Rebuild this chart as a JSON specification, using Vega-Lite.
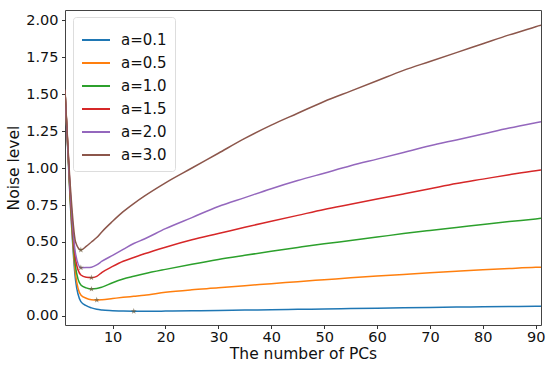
{
  "$schema": "https://vega.github.io/schema/vega-lite/v6.json",
  "width": 476,
  "height": 315,
  "autosize": {"type": "none"},
  "padding": {"left": 65, "top": 10, "right": 9, "bottom": 42},
  "background": "white",
  "config": {
    "font": "DejaVu Sans",
    "view": {"stroke": "#444", "strokeWidth": 1},
    "axis": {"grid": false, "domain": false, "tickColor": "#333", "tickSize": 3.5, "labelColor": "#111", "titleColor": "#111", "labelFontSize": 14.5, "titleFontSize": 15.5, "titleFontWeight": "normal", "labelPadding": 3.5, "labelOverlap": false},
    "axisY": {"labelOverlap": false}
  },
  "datasets": {
    "lines": [
      {"a":"a=0.1","x":1,"y":1.52},{"a":"a=0.1","x":2,"y":0.76},{"a":"a=0.1","x":3,"y":0.24},{"a":"a=0.1","x":4,"y":0.097},{"a":"a=0.1","x":5,"y":0.07},{"a":"a=0.1","x":6,"y":0.055},{"a":"a=0.1","x":7,"y":0.045},{"a":"a=0.1","x":8,"y":0.04},{"a":"a=0.1","x":10,"y":0.036},{"a":"a=0.1","x":12,"y":0.033},{"a":"a=0.1","x":14,"y":0.032},{"a":"a=0.1","x":16,"y":0.032},{"a":"a=0.1","x":20,"y":0.033},{"a":"a=0.1","x":25,"y":0.035},{"a":"a=0.1","x":30,"y":0.037},{"a":"a=0.1","x":35,"y":0.04},{"a":"a=0.1","x":40,"y":0.042},{"a":"a=0.1","x":45,"y":0.045},{"a":"a=0.1","x":50,"y":0.047},{"a":"a=0.1","x":55,"y":0.05},{"a":"a=0.1","x":60,"y":0.052},{"a":"a=0.1","x":65,"y":0.055},{"a":"a=0.1","x":70,"y":0.057},{"a":"a=0.1","x":75,"y":0.06},{"a":"a=0.1","x":80,"y":0.062},{"a":"a=0.1","x":85,"y":0.064},{"a":"a=0.1","x":90,"y":0.066},{"a":"a=0.1","x":91,"y":0.066},
      {"a":"a=0.5","x":1,"y":1.52},{"a":"a=0.5","x":2,"y":0.78},{"a":"a=0.5","x":3,"y":0.28},{"a":"a=0.5","x":4,"y":0.142},{"a":"a=0.5","x":5,"y":0.12},{"a":"a=0.5","x":6,"y":0.11},{"a":"a=0.5","x":7,"y":0.108},{"a":"a=0.5","x":8,"y":0.11},{"a":"a=0.5","x":10,"y":0.118},{"a":"a=0.5","x":12,"y":0.126},{"a":"a=0.5","x":14,"y":0.133},{"a":"a=0.5","x":16,"y":0.14},{"a":"a=0.5","x":20,"y":0.16},{"a":"a=0.5","x":25,"y":0.177},{"a":"a=0.5","x":30,"y":0.19},{"a":"a=0.5","x":35,"y":0.205},{"a":"a=0.5","x":40,"y":0.218},{"a":"a=0.5","x":45,"y":0.232},{"a":"a=0.5","x":50,"y":0.245},{"a":"a=0.5","x":55,"y":0.258},{"a":"a=0.5","x":60,"y":0.27},{"a":"a=0.5","x":65,"y":0.281},{"a":"a=0.5","x":70,"y":0.292},{"a":"a=0.5","x":75,"y":0.302},{"a":"a=0.5","x":80,"y":0.312},{"a":"a=0.5","x":85,"y":0.321},{"a":"a=0.5","x":90,"y":0.329},{"a":"a=0.5","x":91,"y":0.33},
      {"a":"a=1.0","x":1,"y":1.52},{"a":"a=1.0","x":2,"y":0.8},{"a":"a=1.0","x":3,"y":0.33},{"a":"a=1.0","x":4,"y":0.209},{"a":"a=1.0","x":5,"y":0.19},{"a":"a=1.0","x":6,"y":0.182},{"a":"a=1.0","x":7,"y":0.185},{"a":"a=1.0","x":8,"y":0.195},{"a":"a=1.0","x":10,"y":0.225},{"a":"a=1.0","x":12,"y":0.25},{"a":"a=1.0","x":14,"y":0.268},{"a":"a=1.0","x":16,"y":0.285},{"a":"a=1.0","x":20,"y":0.315},{"a":"a=1.0","x":25,"y":0.35},{"a":"a=1.0","x":30,"y":0.382},{"a":"a=1.0","x":35,"y":0.41},{"a":"a=1.0","x":40,"y":0.437},{"a":"a=1.0","x":45,"y":0.463},{"a":"a=1.0","x":50,"y":0.488},{"a":"a=1.0","x":55,"y":0.51},{"a":"a=1.0","x":60,"y":0.533},{"a":"a=1.0","x":65,"y":0.557},{"a":"a=1.0","x":70,"y":0.578},{"a":"a=1.0","x":75,"y":0.598},{"a":"a=1.0","x":80,"y":0.618},{"a":"a=1.0","x":85,"y":0.638},{"a":"a=1.0","x":90,"y":0.656},{"a":"a=1.0","x":91,"y":0.66},
      {"a":"a=1.5","x":1,"y":1.52},{"a":"a=1.5","x":2,"y":0.82},{"a":"a=1.5","x":3,"y":0.38},{"a":"a=1.5","x":4,"y":0.277},{"a":"a=1.5","x":5,"y":0.262},{"a":"a=1.5","x":6,"y":0.259},{"a":"a=1.5","x":7,"y":0.268},{"a":"a=1.5","x":8,"y":0.295},{"a":"a=1.5","x":10,"y":0.335},{"a":"a=1.5","x":12,"y":0.37},{"a":"a=1.5","x":14,"y":0.395},{"a":"a=1.5","x":16,"y":0.42},{"a":"a=1.5","x":20,"y":0.465},{"a":"a=1.5","x":25,"y":0.515},{"a":"a=1.5","x":30,"y":0.557},{"a":"a=1.5","x":35,"y":0.6},{"a":"a=1.5","x":40,"y":0.64},{"a":"a=1.5","x":45,"y":0.68},{"a":"a=1.5","x":50,"y":0.72},{"a":"a=1.5","x":55,"y":0.755},{"a":"a=1.5","x":60,"y":0.79},{"a":"a=1.5","x":65,"y":0.825},{"a":"a=1.5","x":70,"y":0.86},{"a":"a=1.5","x":75,"y":0.895},{"a":"a=1.5","x":80,"y":0.925},{"a":"a=1.5","x":85,"y":0.955},{"a":"a=1.5","x":90,"y":0.982},{"a":"a=1.5","x":91,"y":0.986},
      {"a":"a=2.0","x":1,"y":1.52},{"a":"a=2.0","x":2,"y":0.84},{"a":"a=2.0","x":3,"y":0.42},{"a":"a=2.0","x":4,"y":0.326},{"a":"a=2.0","x":5,"y":0.327},{"a":"a=2.0","x":6,"y":0.33},{"a":"a=2.0","x":7,"y":0.345},{"a":"a=2.0","x":8,"y":0.37},{"a":"a=2.0","x":10,"y":0.41},{"a":"a=2.0","x":12,"y":0.45},{"a":"a=2.0","x":14,"y":0.49},{"a":"a=2.0","x":16,"y":0.52},{"a":"a=2.0","x":20,"y":0.59},{"a":"a=2.0","x":25,"y":0.665},{"a":"a=2.0","x":30,"y":0.74},{"a":"a=2.0","x":35,"y":0.8},{"a":"a=2.0","x":40,"y":0.86},{"a":"a=2.0","x":45,"y":0.915},{"a":"a=2.0","x":50,"y":0.965},{"a":"a=2.0","x":55,"y":1.015},{"a":"a=2.0","x":60,"y":1.06},{"a":"a=2.0","x":65,"y":1.105},{"a":"a=2.0","x":70,"y":1.15},{"a":"a=2.0","x":75,"y":1.19},{"a":"a=2.0","x":80,"y":1.23},{"a":"a=2.0","x":85,"y":1.27},{"a":"a=2.0","x":90,"y":1.306},{"a":"a=2.0","x":91,"y":1.313},
      {"a":"a=3.0","x":1,"y":1.53},{"a":"a=3.0","x":2,"y":0.88},{"a":"a=3.0","x":3,"y":0.5},{"a":"a=3.0","x":4,"y":0.446},{"a":"a=3.0","x":5,"y":0.47},{"a":"a=3.0","x":6,"y":0.5},{"a":"a=3.0","x":7,"y":0.53},{"a":"a=3.0","x":8,"y":0.57},{"a":"a=3.0","x":10,"y":0.64},{"a":"a=3.0","x":12,"y":0.705},{"a":"a=3.0","x":14,"y":0.76},{"a":"a=3.0","x":16,"y":0.81},{"a":"a=3.0","x":20,"y":0.9},{"a":"a=3.0","x":25,"y":1.0},{"a":"a=3.0","x":30,"y":1.1},{"a":"a=3.0","x":35,"y":1.2},{"a":"a=3.0","x":40,"y":1.29},{"a":"a=3.0","x":45,"y":1.37},{"a":"a=3.0","x":50,"y":1.45},{"a":"a=3.0","x":55,"y":1.52},{"a":"a=3.0","x":60,"y":1.59},{"a":"a=3.0","x":65,"y":1.66},{"a":"a=3.0","x":70,"y":1.72},{"a":"a=3.0","x":75,"y":1.78},{"a":"a=3.0","x":80,"y":1.84},{"a":"a=3.0","x":85,"y":1.9},{"a":"a=3.0","x":90,"y":1.955},{"a":"a=3.0","x":91,"y":1.966}
    ],
    "mins": [
      {"a":"a=0.1","x":14,"y":0.032},
      {"a":"a=0.5","x":7,"y":0.108},
      {"a":"a=1.0","x":6,"y":0.182},
      {"a":"a=1.5","x":6,"y":0.259},
      {"a":"a=2.0","x":4,"y":0.326},
      {"a":"a=3.0","x":4,"y":0.446}
    ]
  },
  "encoding": {
    "x": {"field": "x", "type": "quantitative", "title": "The number of PCs",
          "scale": {"domain": [1, 91], "nice": false, "zero": false},
          "axis": {"values": [10,20,30,40,50,60,70,80,90], "labelPadding": 2, "titlePadding": 2, "labelOverlap": false, "labelFlush": false}},
    "y": {"field": "y", "type": "quantitative", "title": "Noise level",
          "scale": {"domain": [-0.061, 2.068], "nice": false, "zero": false},
          "axis": {"values": [0,0.25,0.5,0.75,1,1.25,1.5,1.75,2], "labelExpr": "format(datum.value, '.2f')", "titlePadding": 4, "labelOverlap": false, "labelFlush": false}}
  },
  "layer": [
    {
      "data": {"name": "lines"},
      "mark": {"type": "line", "strokeWidth": 1.5, "interpolate": "monotone", "clip": true},
      "encoding": {
        "color": {"field": "a", "type": "nominal",
                  "scale": {"domain": ["a=0.1","a=0.5","a=1.0","a=1.5","a=2.0","a=3.0"],
                            "range": ["#1f77b4","#ff7f0e","#2ca02c","#d62728","#9467bd","#8c564b"]},
                  "legend": {"title": null, "orient": "none", "legendX": 8, "legendY": 7,
                             "symbolType": "stroke", "symbolSize": 784, "symbolStrokeWidth": 2,
                             "labelFontSize": 15, "labelColor": "#111", "rowPadding": -7, "labelOffset": 10,
                             "padding": 8, "strokeColor": "#ddd", "fillColor": "rgba(255,255,255,0.8)", "cornerRadius": 3}}
      }
    },
    {
      "data": {"name": "mins"},
      "mark": {"type": "point", "filled": true, "size": 40, "color": "#6b5b3a",
               "shape": "M0,-1L0.2245,-0.309L0.951,-0.309L0.363,0.118L0.588,0.809L0,0.382L-0.588,0.809L-0.363,0.118L-0.951,-0.309L-0.2245,-0.309Z"},
      "encoding": {}
    }
  ]
}
